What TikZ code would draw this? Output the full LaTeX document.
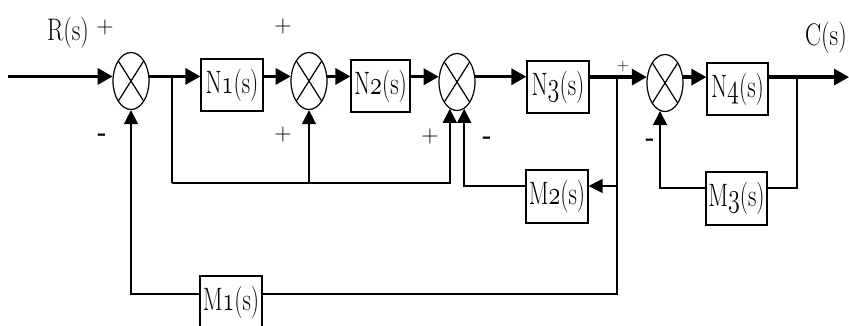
\documentclass[tikz,border=0pt]{standalone}
\usepackage{graphicx}
\usetikzlibrary{arrows.meta,shapes.geometric,calc}
\newcommand\osn[1]{\ensuremath{\mathnormal{#1}}}
\newcommand\blbl[2]{\scalebox{0.97}[1.35]{#1\osn{#2}(s)}}
\begin{document}
\begin{tikzpicture}[x=1pt,y=-1pt,
  sumnode/.style={draw,ellipse,line width=1.2pt,minimum width=36pt,minimum height=57pt,inner sep=0pt,
     path picture={\draw[line width=1.2pt] (path picture bounding box.north west)--(path picture bounding box.south east) (path picture bounding box.north east)--(path picture bounding box.south west);}},
  blk/.style={draw,line width=1.2pt,inner sep=0pt,font=\fontsize{24}{26}\selectfont},
  main/.style={line width=3.2pt},
  mainarrow/.style={main,-{Triangle[length=15pt,width=16pt]}},
  fb/.style={line width=1.4pt},
  fbarrow/.style={fb,-{Triangle[length=14pt,width=14pt]}},
  lbl/.style={font=\fontsize{24}{26}\selectfont,inner sep=0pt},
  sgn/.style={font=\fontsize{24}{26}\selectfont,inner sep=0pt}]
\useasboundingbox (0,0) rectangle (849,325);
\clip (0,0) rectangle (849,325);
% summing junctions
\node[sumnode] (s1) at (131,81) {};
\node[sumnode] (s2) at (309,81) {};
\node[sumnode] (s3) at (457,82) {};
\node[sumnode] (s4) at (665,83) {};
% blocks
\node[blk,minimum width=62pt,minimum height=52pt] (N1) at (232,85) {\blbl{N}{1}};
\node[blk,minimum width=59pt,minimum height=52pt] (N2) at (380.5,86) {\blbl{N}{2}};
\node[blk,minimum width=62pt,minimum height=52pt] (N3) at (558,87) {\blbl{N}{3}};
\node[blk,minimum width=61pt,minimum height=52pt] (N4) at (737.5,89) {\blbl{N}{4}};
\node[blk,minimum width=62pt,minimum height=53pt] (M2) at (557,196.5) {\blbl{M}{2}};
\node[blk,minimum width=61pt,minimum height=53pt] (M3) at (736.5,198.5) {\blbl{M}{3}};
\node[blk,minimum width=62pt,minimum height=53pt] (M1) at (231,302.5) {\blbl{M}{1}};
% coordinates
\coordinate (in) at (8,77);
\coordinate (out) at (849,77);
\coordinate (b1) at (172,77);
\coordinate (f1) at (172,183);
\coordinate (b2) at (617,77);
\coordinate (m2in) at (617,186);
\coordinate (f2) at (617,294);
\coordinate (b3) at (797,77);
\coordinate (f3) at (797,188);
% forward path
\draw[mainarrow] (in |- s1.166) -- (s1.166);
\draw[mainarrow] (s1.14) -- (s1.14 -| N1.west);
\draw[mainarrow] (N1.east |- s2.166) -- (s2.166);
\draw[mainarrow] (s2.14) -- (s2.14 -| N2.west);
\draw[mainarrow] (N2.east |- s3.164) -- (s3.164);
\draw[mainarrow] (s3.16) -- (s3.16 -| N3.west);
\draw[mainarrow] (N3.east |- s4.162) -- (s4.162);
\draw[mainarrow] (s4.18) -- (s4.18 -| N4.west);
\draw[mainarrow] (N4.east |- s4.18) -- (s4.18 -| out);
% feedback paths
\draw[fb] (b1 |- s1.14) -- (f1);
\draw[fbarrow] (f1) -| (s3.-105);
\draw[fbarrow] (f1 -| s2.south) -- (s2.south);
\draw[fb] (b2 |- s4.162) |- (f2 -| M1.east);
\draw[fbarrow] (m2in) -- (m2in -| M2.east);
\draw[fbarrow] (m2in -| M2.west) -| (s3.-75);
\draw[fbarrow] (f2 -| M1.west) -| (s1.south);
\draw[fb] (b3 |- s4.18) |- (f3 -| M3.east);
\draw[fbarrow] (f3 -| M3.west) -| (s4.-100);
% labels
\node[lbl] (R) at (68,33) {\scalebox{1}[1.3]{R(s)}};
\node[lbl] (C) at (826,38) {\scalebox{1}[1.3]{C(s)}};
\node[sgn] (p1) at (105,28) {+};
\node[sgn] (p2) at (283,27) {+};
\node[sgn] (p3) at (283,135) {+};
\node[sgn] (p4) at (430,137) {+};
\node[sgn] (m1) at (487,140) {\textbf{-}};
\node[sgn] (m0) at (102,137) {\textbf{-}};
\node[sgn,font=\fontsize{17}{18}\selectfont] (p5) at (623,66) {+};
\node[sgn] (m3) at (650,142) {\textbf{-}};
\end{tikzpicture}
\end{document}
